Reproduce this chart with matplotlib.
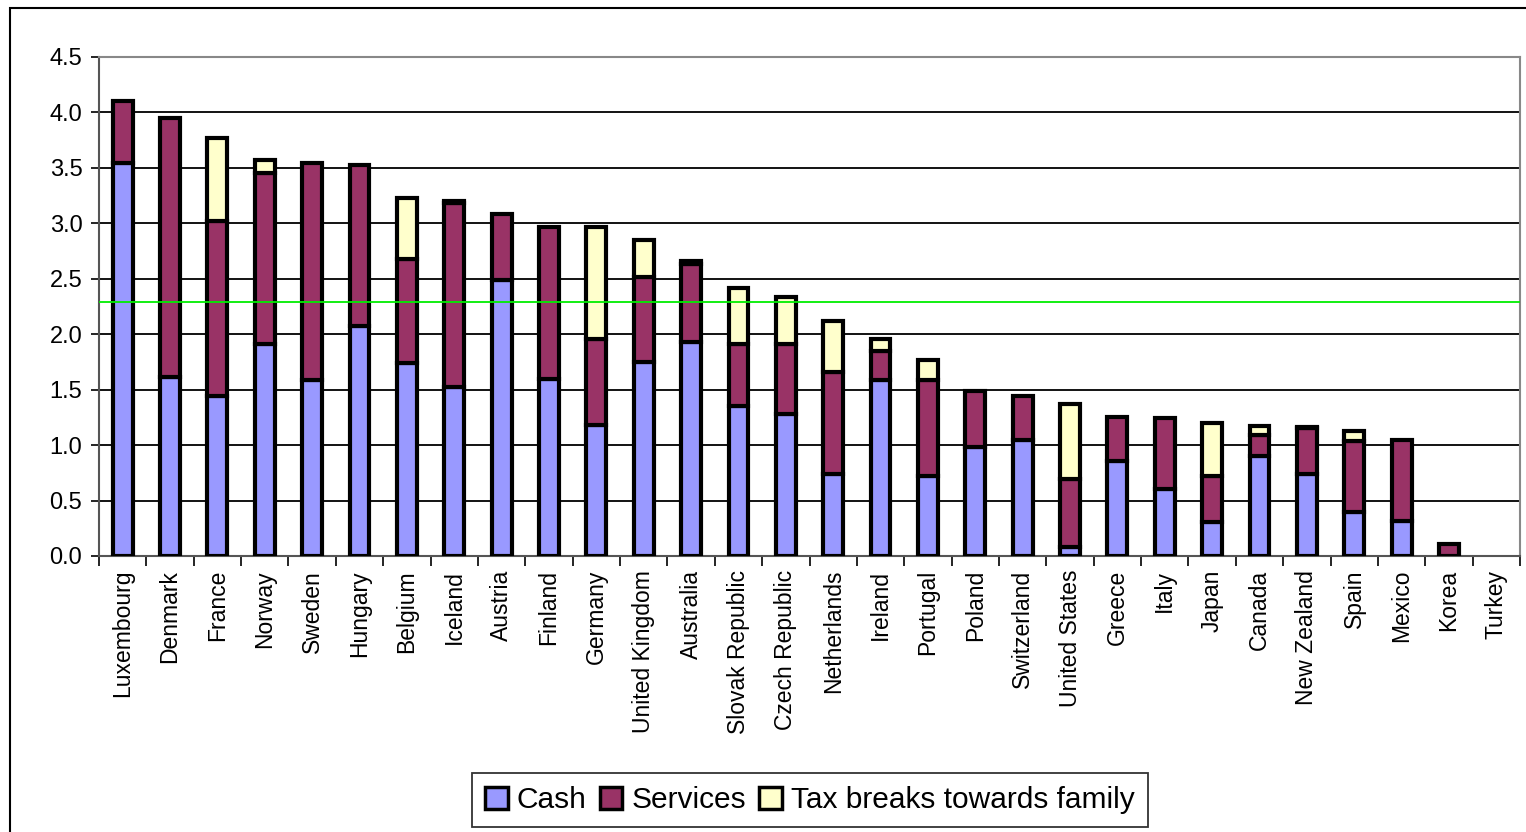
import numpy as np
import matplotlib.pyplot as plt
from matplotlib.patches import Rectangle

plt.rcParams['font.family'] = ['Liberation Sans', 'DejaVu Sans']

# Datos
paises = ["Luxembourg", "Denmark", "France", "Norway", "Sweden", "Hungary", "Belgium",
          "Iceland", "Austria", "Finland", "Germany", "United Kingdom", "Australia",
          "Slovak Republic", "Czech Republic", "Netherlands", "Ireland", "Portugal",
          "Poland", "Switzerland", "United States", "Greece", "Italy", "Japan", "Canada",
          "New Zealand", "Spain", "Mexico", "Korea", "Turkey"]
cash = [3.54, 1.61, 1.44, 1.91, 1.59, 2.07, 1.74, 1.52, 2.49, 1.60, 1.18, 1.75, 1.93,
        1.35, 1.28, 0.74, 1.59, 0.72, 0.98, 1.05, 0.08, 0.86, 0.60, 0.31, 0.90, 0.74,
        0.40, 0.32, 0.00, 0.00]
services = [0.56, 2.34, 1.58, 1.54, 1.95, 1.46, 0.94, 1.66, 0.59, 1.37, 0.78, 0.77, 0.70,
            0.56, 0.63, 0.92, 0.26, 0.87, 0.51, 0.39, 0.61, 0.39, 0.64, 0.41, 0.19, 0.41,
            0.64, 0.73, 0.11, 0.00]
tax = [0.00, 0.00, 0.75, 0.12, 0.00, 0.00, 0.55, 0.02, 0.00, 0.00, 1.01, 0.33, 0.03,
       0.51, 0.43, 0.46, 0.11, 0.18, 0.00, 0.00, 0.68, 0.00, 0.00, 0.48, 0.08, 0.01,
       0.09, 0.00, 0.00, 0.00]
promedio = 2.29
yticks = np.arange(0, 4.51, 0.5)

fig = plt.figure(figsize=(15.26, 8.32), dpi=100)
ax = fig.add_axes([99/1526, 1 - 556/832, (1520 - 99)/1526, (556 - 57)/832])

x = np.arange(len(paises))
cash = np.array(cash)
services = np.array(services)
tax = np.array(tax)
ancho = 0.42
estilo = dict(width=ancho, edgecolor='black', linewidth=3, zorder=3)
capas = [
    ax.bar(x, cash, color='#9999FF', label='Cash', **estilo),
    ax.bar(x, services, bottom=cash, color='#993366', label='Services', **estilo),
    ax.bar(x, tax, bottom=cash + services, color='#FFFFCC', label='Tax breaks towards family', **estilo),
]
# sin borde para segmentos vacíos
for capa in capas:
    for rect in capa:
        if rect.get_height() == 0:
            rect.set_linewidth(0)

ax.axhline(promedio, color='#00EE00', linewidth=1.3, zorder=4)

ax.set_xlim(-0.5, len(paises) - 0.5)
ax.set_ylim(0, 4.5)
ax.set_yticks(yticks)
ax.set_yticklabels([f"{v:.1f}" for v in yticks], fontsize=17)
ax.grid(axis='y', color='black', linewidth=1.3, zorder=0)
ax.set_axisbelow(True)

ax.set_xticks(x)
ax.set_xticklabels(paises, rotation=90, fontsize=16.5, va='top', ha='center')
ax.set_xticks(np.arange(-0.5, len(paises), 1), minor=True)
ax.tick_params(axis='x', which='major', length=0, pad=10)
ax.tick_params(axis='x', which='minor', length=7, width=1.2, direction='out')
ax.tick_params(axis='y', length=6, width=1.2, direction='out', pad=6)

for lado in ['top', 'right']:
    ax.spines[lado].set_color('#888888')
    ax.spines[lado].set_linewidth(1.5)
for lado in ['left', 'bottom']:
    ax.spines[lado].set_color('#555555')
    ax.spines[lado].set_linewidth(1.5)

ley = fig.legend(loc='center', bbox_to_anchor=(810/1526, 1 - 800/832), ncol=3,
                 fontsize=21.5, frameon=True, fancybox=False, edgecolor='black',
                 handlelength=0.75, handleheight=0.75, handletextpad=0.3,
                 columnspacing=0.45, borderpad=0.45, borderaxespad=0)
ley.get_frame().set_linewidth(1.3)
for h in ley.legend_handles:
    h.set_linewidth(2.5)

# Marco exterior
fig.patches.append(Rectangle((10/1526, -0.05), 1.1, 1.05 - 8/832, transform=fig.transFigure,
                             fill=False, edgecolor='black', linewidth=1.5))

plt.savefig("out.png", dpi=100)
